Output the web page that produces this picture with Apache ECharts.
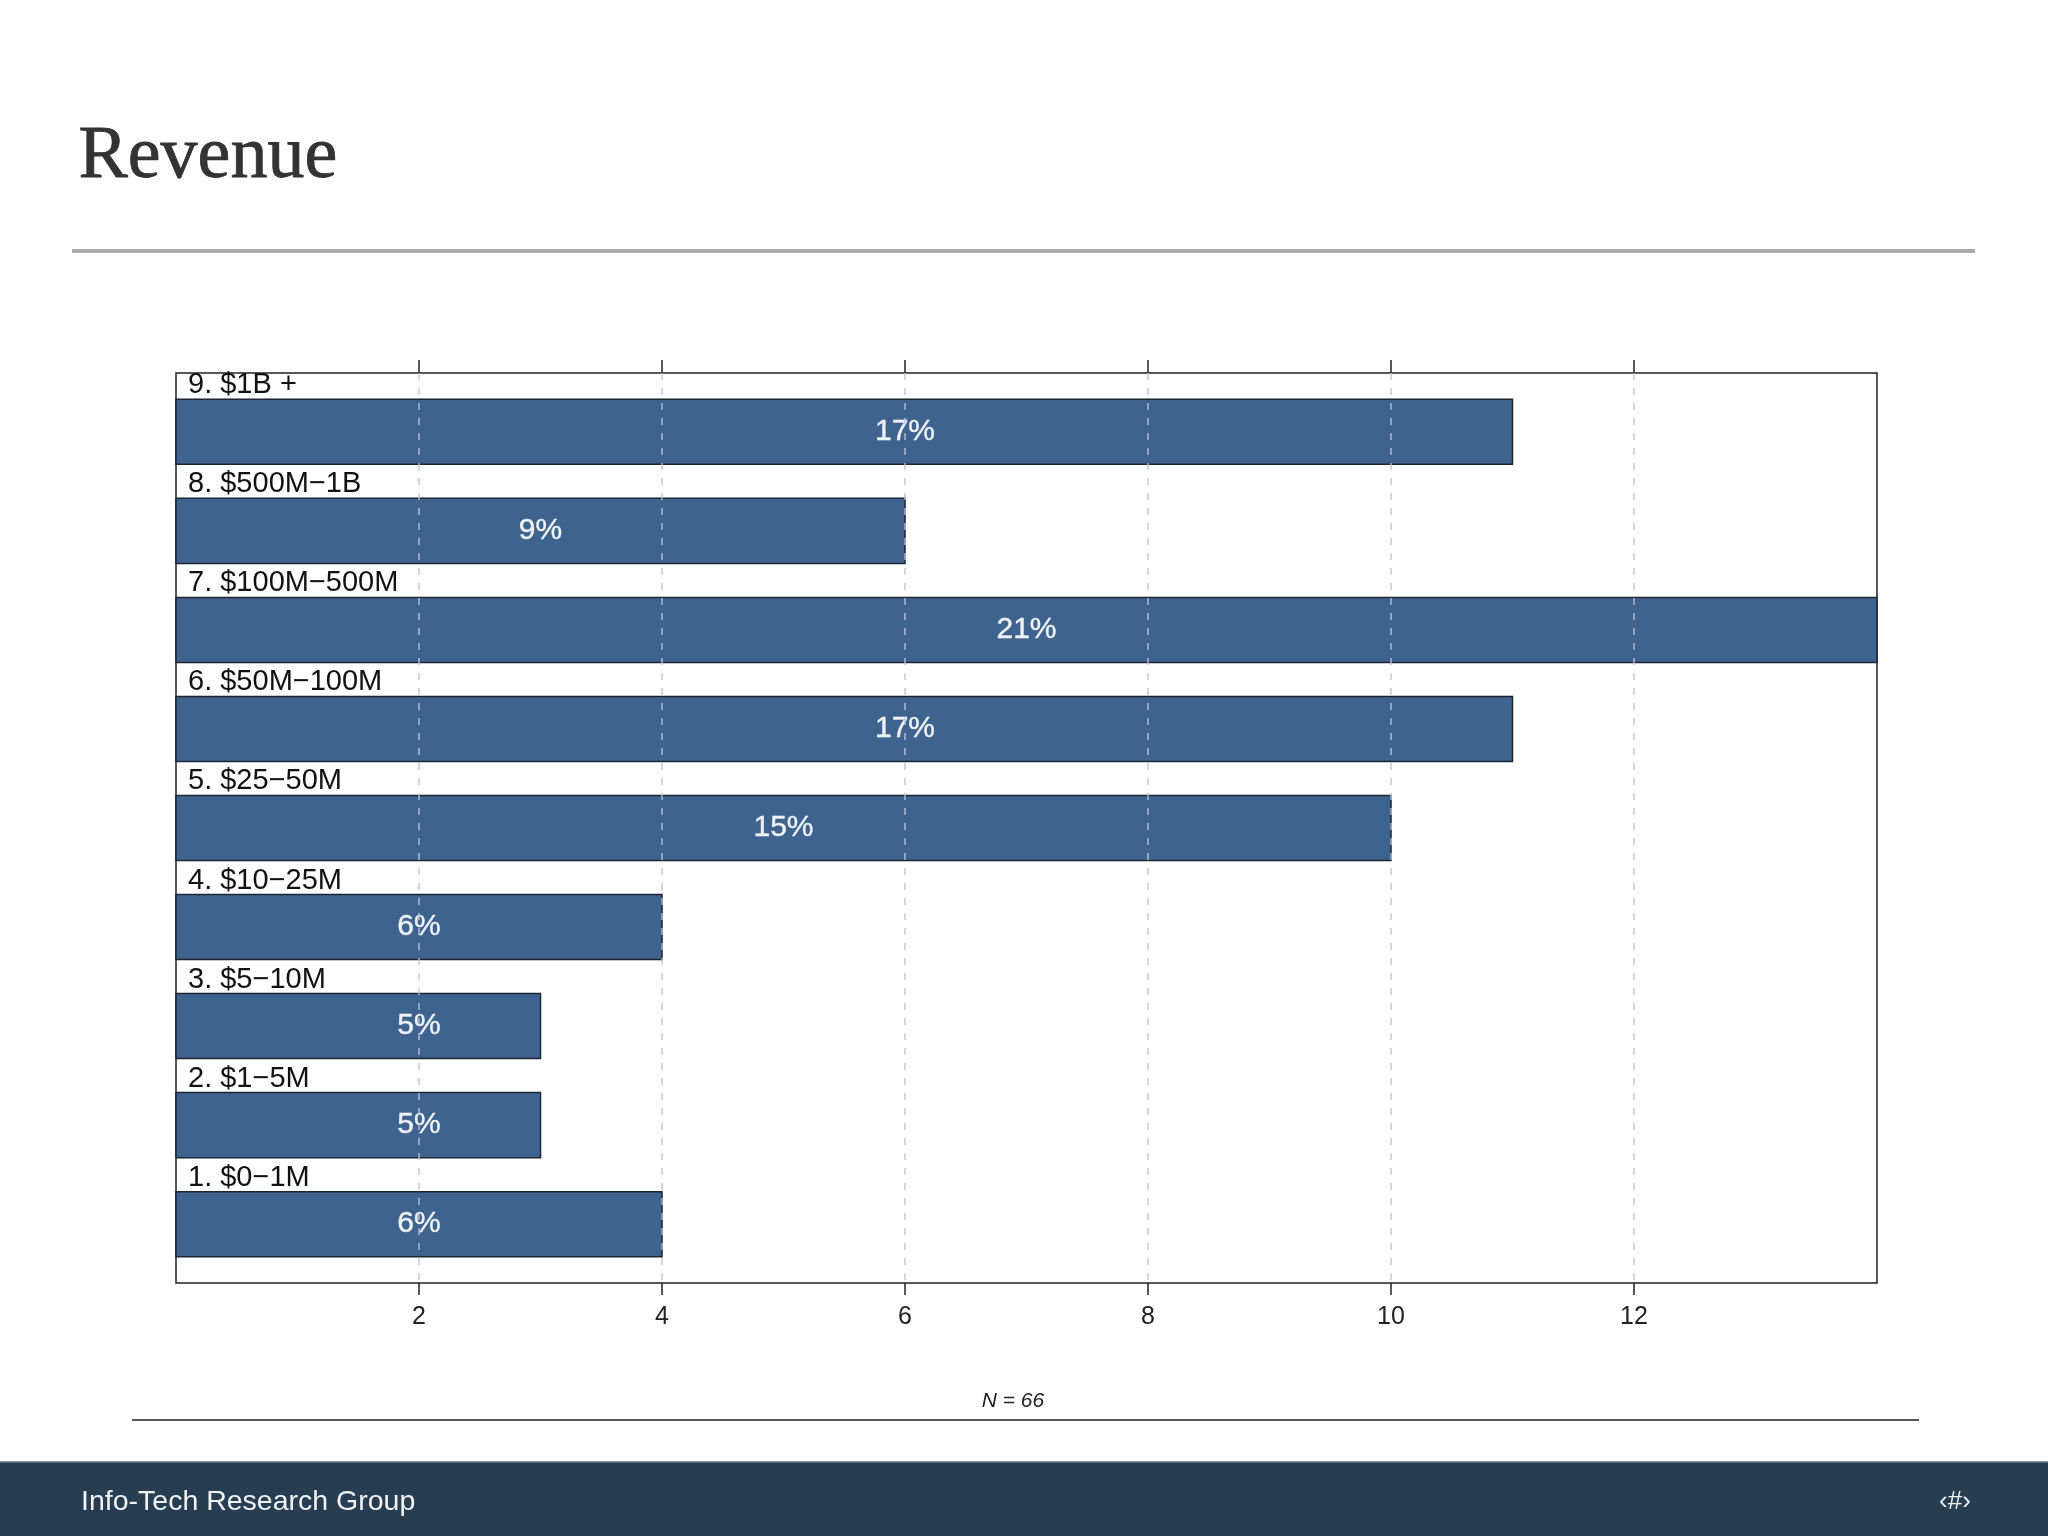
<!DOCTYPE html>
<html>
<head>
<meta charset="utf-8">
<script src="https://cdn.jsdelivr.net/npm/echarts@6/dist/echarts.min.js"></script>
<style>
html,body{margin:0;padding:0;background:#fff;}
#chart{width:2048px;height:1536px;}
</style>
</head>
<body>
<div id="chart"></div>
<script>
// ---- data (bottom to top) ----
const categories = ['1. $0\u22121M', '2. $1\u22125M', '3. $5\u221210M', '4. $10\u221225M', '5. $25\u221250M', '6. $50M\u2212100M', '7. $100M\u2212500M', '8. $500M\u22121B', '9. $1B +'];
const counts = [4, 3, 3, 4, 10, 11, 14, 6, 11];
const pctLabels = ['6%', '5%', '5%', '6%', '15%', '17%', '21%', '9%', '17%'];
const xTickValues = [2, 4, 6, 8, 10, 12];
const xMin = 0, xMax = 14, xInterval = 2;
const titleText = 'Revenue';
const noteText = 'N = 66';
const footerText = 'Info-Tech Research Group';
const pageText = '\u2039#\u203A';

const chart = echarts.init(document.getElementById('chart'));

const seriesData = counts.map((v, i) => [v, i + 1]);
const BAR_H = 0.657;

const option = {
  backgroundColor: '#ffffff',
  animation: false,
  grid: {
    left: 176, top: 373, width: 1701, height: 910,
    show: true, borderColor: '#222', borderWidth: 1.5, backgroundColor: '#ffffff', containLabel: false
  },
  xAxis: [
    {
      type: 'value', position: 'bottom', min: xMin, max: xMax, interval: xInterval, z: 5,
      axisLine: { show: false },
      axisTick: { show: true, length: 12, lineStyle: { color: '#222', width: 1.5 }, customValues: xTickValues },
      axisLabel: { show: true, margin: 22, fontSize: 25, color: '#222', fontFamily: 'Liberation Sans, Arial, sans-serif', customValues: xTickValues },
      splitLine: { show: true, lineStyle: { color: 'rgba(188,194,214,0.9)', width: 1.5, type: [7, 8] } }
    },
    {
      type: 'value', position: 'top', min: xMin, max: xMax, interval: xInterval, z: 5,
      axisLine: { show: false },
      axisTick: { show: true, length: 13, lineStyle: { color: '#222', width: 1.5 }, customValues: xTickValues },
      axisLabel: { show: false },
      splitLine: { show: false }
    }
  ],
  yAxis: {
    type: 'value', min: 0.406, max: 9.594, show: false
  },
  series: [{
    type: 'custom',
    xAxisIndex: 0,
    clip: false,
    z: 2,
    encode: { x: 0, y: 1 },
    data: seriesData,
    renderItem: function (params, api) {
      const v = api.value(0);
      const idx = api.value(1);
      const start = api.coord([0, idx]);
      const end = api.coord([v, idx]);
      const h = api.size([0, BAR_H])[1];
      const top = start[1] - h / 2;
      const mid = api.coord([Math.round(v / 2), idx]);
      const i = params.dataIndex;
      return {
        type: 'group',
        children: [
          {
            type: 'rect',
            shape: { x: start[0], y: top, width: end[0] - start[0], height: h },
            style: { fill: '#3e638f', stroke: '#1c2530', lineWidth: 1.5 }
          },
          {
            type: 'text',
            x: start[0] + 12, y: top - 14,
            style: {
              text: categories[i], fontSize: 29, fontFamily: 'Liberation Sans, Arial, sans-serif',
              fill: '#111', align: 'left', verticalAlign: 'middle'
            }
          },
          {
            type: 'text',
            x: mid[0], y: mid[1],
            z2: 10,
            style: {
              text: pctLabels[i], fontSize: 30, fontFamily: 'Liberation Sans, Arial, sans-serif',
              fill: '#eef2f7', align: 'center', verticalAlign: 'middle',
              stroke: '#eef2f7', lineWidth: 0.4
            }
          }
        ]
      };
    }
  }],
  graphic: [
    {
      type: 'text', left: 78, top: 120,
      style: { text: titleText, fontSize: 74, fontFamily: 'Liberation Serif, Times New Roman, serif', fill: '#333', stroke: '#333', lineWidth: 0.8 }
    },
    {
      type: 'rect', shape: { x: 72, y: 249, width: 1903, height: 4 },
      style: { fill: '#ababab' }
    },
    {
      type: 'text', x: 1013, y: 1401,
      style: { text: noteText, fontSize: 21, fontStyle: 'italic', fontFamily: 'Liberation Sans, Arial, sans-serif', fill: '#222', align: 'center', verticalAlign: 'middle' }
    },
    {
      type: 'rect', shape: { x: 132, y: 1419, width: 1787, height: 2 },
      style: { fill: '#555' }
    },
    {
      type: 'rect', shape: { x: 0, y: 1462, width: 2048, height: 74 },
      style: { fill: '#263d52' }
    },
    {
      type: 'rect', shape: { x: 0, y: 1461, width: 2048, height: 1.5 },
      style: { fill: '#8a939c' }
    },
    {
      type: 'text', x: 81, y: 1502,
      style: { text: footerText, fontSize: 28.5, fontFamily: 'Liberation Sans, Arial, sans-serif', fill: '#f2f2f2', align: 'left', verticalAlign: 'middle' }
    },
    {
      type: 'text', x: 1955, y: 1502,
      style: { text: pageText, fontSize: 26, fontFamily: 'Liberation Sans, Arial, sans-serif', fill: '#f2f2f2', align: 'center', verticalAlign: 'middle' }
    }
  ]
};

chart.setOption(option);
</script>
</body>
</html>
